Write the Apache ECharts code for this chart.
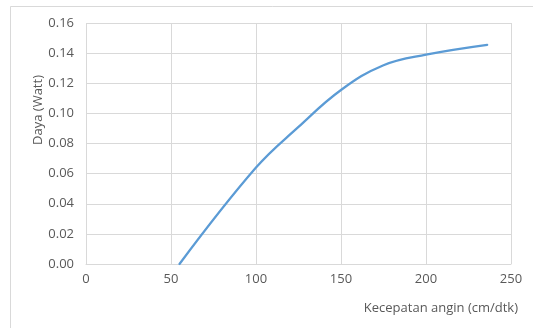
<!DOCTYPE html>
<html>
<head>
<meta charset="utf-8">
<script src="https://cdn.jsdelivr.net/npm/echarts@6/dist/echarts.min.js"></script>
<style>
  html, body { margin: 0; padding: 0; background: #ffffff; }
  #chart { width: 533px; height: 328px; }
</style>
</head>
<body>
<div id="chart"></div>
<script>
// Wind speed (cm/dtk) against generated power (Watt)
const windSpeed = [55, 100, 125, 150, 175, 200, 236];
const power     = [0.000, 0.064, 0.091, 0.1155, 0.132, 0.139, 0.1455];

const xTicks = { min: 0, max: 250, step: 50 };
const yTicks = { min: 0, max: 0.16, step: 0.02 };

const xTitle = 'Kecepatan angin (cm/dtk)';
const yTitle = 'Daya (Watt)';

const points = windSpeed.map((v, i) => [v, power[i]]);

const gridColor = '#d9d9d9';
const textColor = '#595959';
const font = '"Open Sans", "Liberation Sans", sans-serif';

const chart = echarts.init(document.getElementById('chart'), null, { renderer: 'canvas' });

chart.setOption({
  animation: false,
  backgroundColor: '#ffffff',
  grid: { left: 86, right: 22, top: 23, bottom: 64, containLabel: false },
  xAxis: {
    type: 'value',
    min: xTicks.min, max: xTicks.max, interval: xTicks.step,
    axisLine: { show: true, lineStyle: { color: gridColor, width: 1 } },
    axisTick: { show: false },
    axisLabel: { color: textColor, fontFamily: font, fontSize: 13, margin: 9 },
    splitLine: { show: true, lineStyle: { color: gridColor, width: 1 } }
  },
  yAxis: {
    type: 'value',
    min: yTicks.min, max: yTicks.max, interval: yTicks.step,
    axisLine: { show: false },
    axisTick: { show: false },
    axisLabel: {
      color: textColor, fontFamily: font, fontSize: 13, margin: 12,
      formatter: v => v.toFixed(2)
    },
    splitLine: { show: true, lineStyle: { color: gridColor, width: 1 } }
  },
  graphic: [
    {
      type: 'rect', silent: true, z: -10,
      shape: { x: 10.5, y: 6.5, width: 600, height: 400 },
      style: { fill: 'none', stroke: '#d9d9d9', lineWidth: 1 }
    },
    {
      type: 'text', x: 518, y: 308,
      style: {
        text: xTitle, fill: textColor, font: '13px ' + font,
        align: 'right', verticalAlign: 'middle'
      }
    },
    {
      type: 'text', x: 38, y: 110, rotation: Math.PI / 2,
      style: {
        text: yTitle, fill: textColor, font: '13px ' + font,
        align: 'center', verticalAlign: 'middle'
      }
    }
  ],
  series: [{
    type: 'line',
    data: points,
    smooth: 0.4,
    showSymbol: false,
    lineStyle: { color: '#5b9bd5', width: 2.25, cap: 'round' }
  }]
});
</script>
</body>
</html>
